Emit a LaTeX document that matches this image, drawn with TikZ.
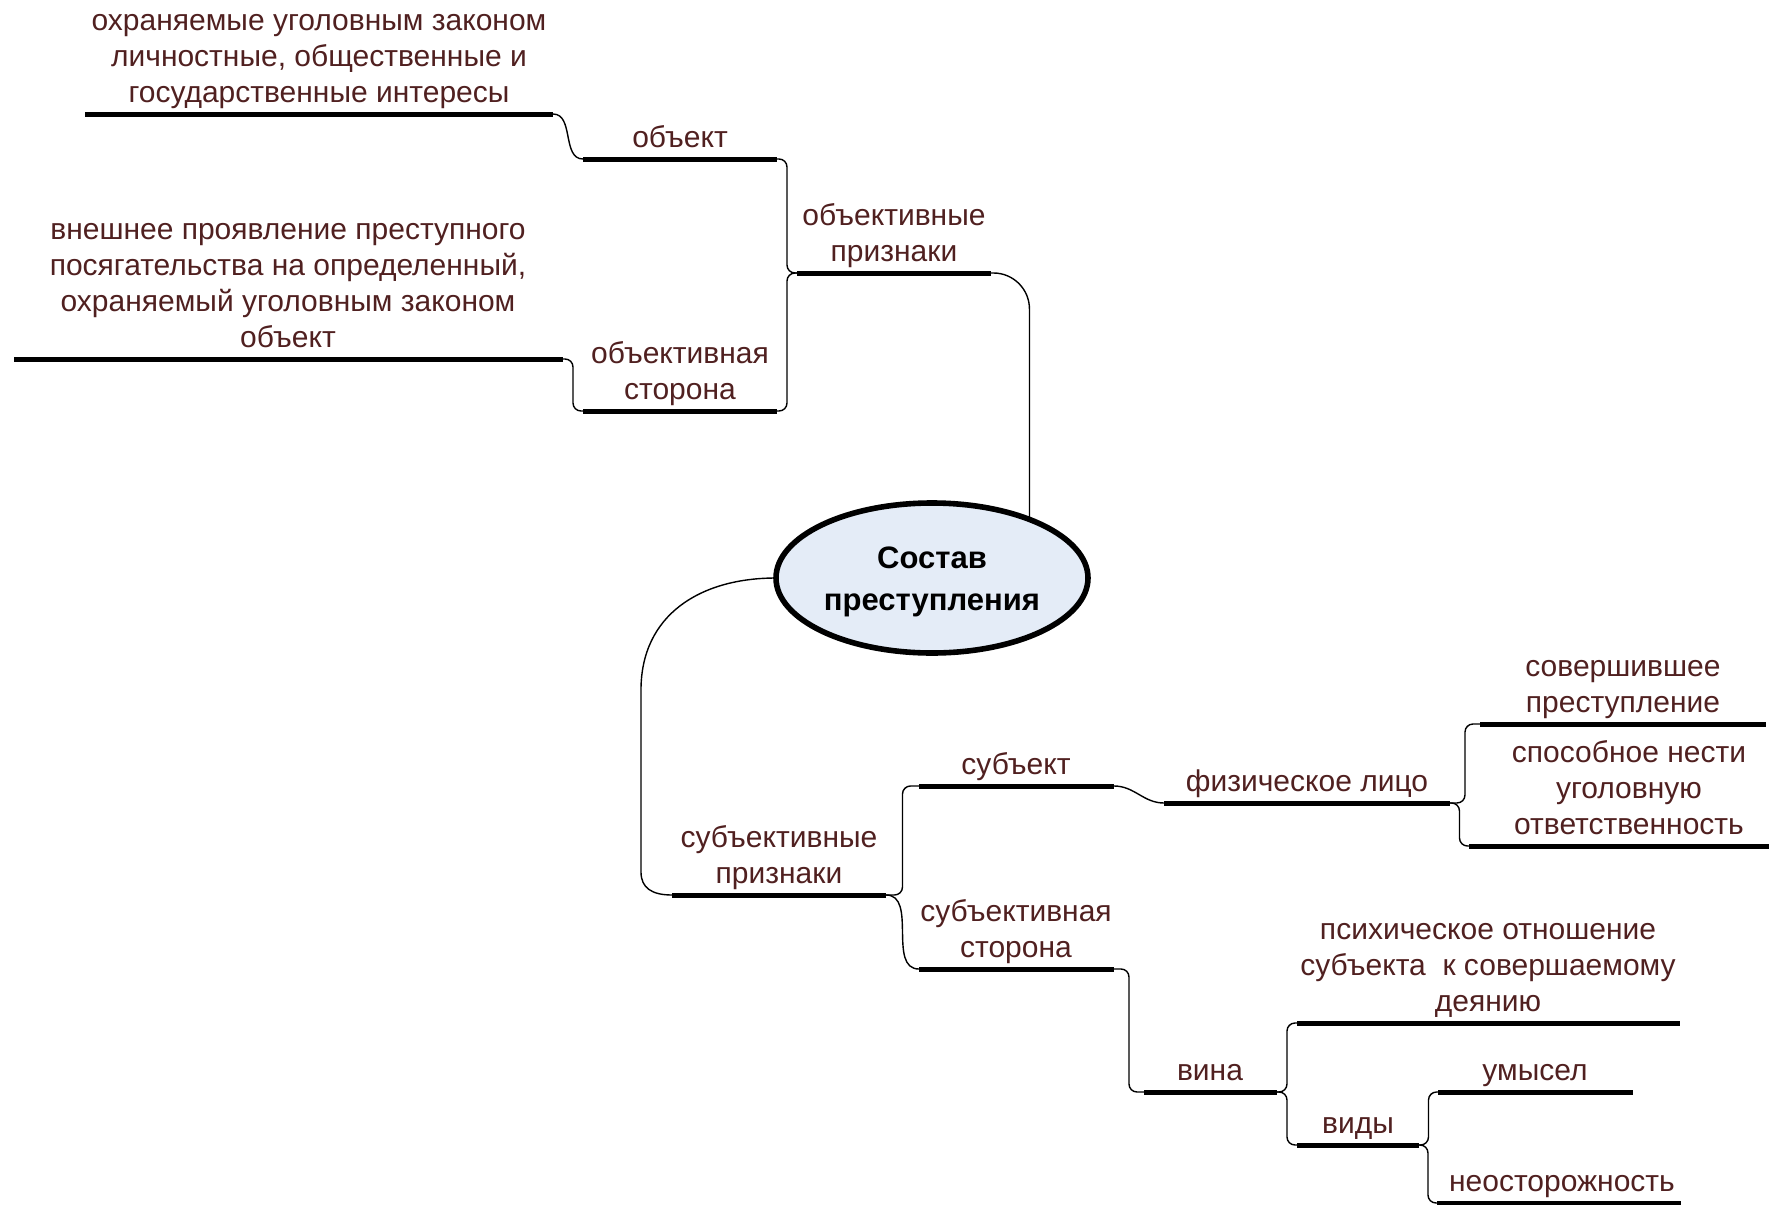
\documentclass[tikz,border=0pt]{standalone}
\usepackage{fontspec}
\setmainfont{Liberation Sans}
\usetikzlibrary{calc,shapes.geometric}
\definecolor{lblc}{RGB}{80,32,32}
\definecolor{ellfill}{RGB}{228,236,247}
\newcommand\lblfont{\fontsize{15}{18}\selectfont}
\newcommand\ellfont{\fontsize{15.5}{21}\selectfont\bfseries}
\newcommand\mmelbow[2]{\draw[conn] (#1) -| ($(#1)!.5!(#2)$) |- (#2);}
\newcommand\mmscurve[2]{\draw[conn] (#1) to[out=0,in=180] (#2);}
\begin{document}
\begin{tikzpicture}[x=0.5pt,y=-0.5pt,
  ul/.style={line width=2.5pt},
  conn/.style={line width=0.7pt, rounded corners=4pt},
  lbl/.style={text=lblc, font=\lblfont, align=center, anchor=base, inner sep=0pt},
  ellnode/.style={ellipse, draw, line width=2.8pt, fill=ellfill, minimum width=156pt,
    minimum height=75pt, inner sep=0pt, outer sep=0pt},
  elltext/.style={font=\ellfont, align=center, inner sep=0pt}]
\useasboundingbox (0,0) rectangle (1769,1205);

% underline end points
\coordinate (ox-l) at (85,114);     \coordinate (ox-r) at (553,114);
\coordinate (obj-l) at (583,159);   \coordinate (obj-r) at (777,159);
\coordinate (objp-l) at (797,273);  \coordinate (objp-r) at (991,273);
\coordinate (vn-l) at (14,359);     \coordinate (vn-r) at (563,359);
\coordinate (objs-l) at (583,411);  \coordinate (objs-r) at (777,411);
\coordinate (subp-l) at (672,895);  \coordinate (subp-r) at (886,895);
\coordinate (sub-l) at (919,786);   \coordinate (sub-r) at (1114,786);
\coordinate (subs-l) at (919,969);  \coordinate (subs-r) at (1114,969);
\coordinate (fl-l) at (1164,803);   \coordinate (fl-r) at (1450,803);
\coordinate (sov-l) at (1480,724);  \coordinate (sov-r) at (1766,724);
\coordinate (spo-l) at (1469,846);  \coordinate (spo-r) at (1769,846);
\coordinate (vina-l) at (1144,1092); \coordinate (vina-r) at (1277,1092);
\coordinate (psy-l) at (1297,1023); \coordinate (psy-r) at (1680,1023);
\coordinate (vidy-l) at (1297,1145); \coordinate (vidy-r) at (1419,1145);
\coordinate (umy-l) at (1438,1092); \coordinate (umy-r) at (1633,1092);
\coordinate (neo-l) at (1437,1203); \coordinate (neo-r) at (1681,1203);

% central node
\node[ellnode] (root) at (932,578) {};
\node[elltext] (root-t) at (932,582) {Состав\\преступления};

% connectors
\mmscurve{ox-r}{obj-l}
\mmelbow{obj-r}{objp-l}
\mmelbow{objs-r}{objp-l}
\mmelbow{vn-r}{objs-l}
\draw[conn, rounded corners=18pt] (objp-r) -| (root.31);
\draw[conn, rounded corners=0pt] (root.west) .. controls (700,578) and (641,615) .. (641,690)
  -- (641,872) .. controls (641,888) and (652,895) .. (subp-l);
\mmelbow{subp-r}{sub-l}
\mmscurve{subp-r}{subs-l}
\mmscurve{sub-r}{fl-l}
\mmelbow{fl-r}{sov-l}
\mmelbow{fl-r}{spo-l}
\mmelbow{subs-r}{vina-l}
\mmelbow{vina-r}{psy-l}
\mmelbow{vina-r}{vidy-l}
\mmelbow{vidy-r}{umy-l}
\mmelbow{vidy-r}{neo-l}

% underlines
\foreach \n in {ox,obj,objp,vn,objs,subp,sub,subs,fl,sov,spo,vina,psy,vidy,umy,neo}
  \draw[ul] (\n-l) -- (\n-r);

% labels
\node[lbl] (t-ox) at (319,102) {охраняемые уголовным законом\\личностные, общественные и\\государственные интересы};
\node[lbl] (t-obj) at (680,147) {объект};
\node[lbl] (t-objp) at (894,261) {объективные\\признаки};
\node[lbl] (t-vn) at (288,347) {внешнее проявление преступного\\посягательства на определенный,\\охраняемый уголовным законом\\объект};
\node[lbl] (t-objs) at (680,399) {объективная\\сторона};
\node[lbl] (t-subp) at (779,883) {субъективные\\признаки};
\node[lbl] (t-sub) at (1016,774) {субъект};
\node[lbl] (t-subs) at (1016,957) {субъективная\\сторона};
\node[lbl] (t-fl) at (1307,791) {физическое лицо};
\node[lbl] (t-sov) at (1623,712) {совершившее\\преступление};
\node[lbl] (t-spo) at (1629,834) {способное нести\\уголовную\\ответственность};
\node[lbl] (t-vina) at (1210,1080) {вина};
\node[lbl] (t-psy) at (1488,1011) {психическое отношение\\субъекта~ к совершаемому\\деянию};
\node[lbl] (t-vidy) at (1358,1133) {виды};
\node[lbl] (t-umy) at (1535,1080) {умысел};
\node[lbl] (t-neo) at (1562,1191) {неосторожность};
\end{tikzpicture}
\end{document}
